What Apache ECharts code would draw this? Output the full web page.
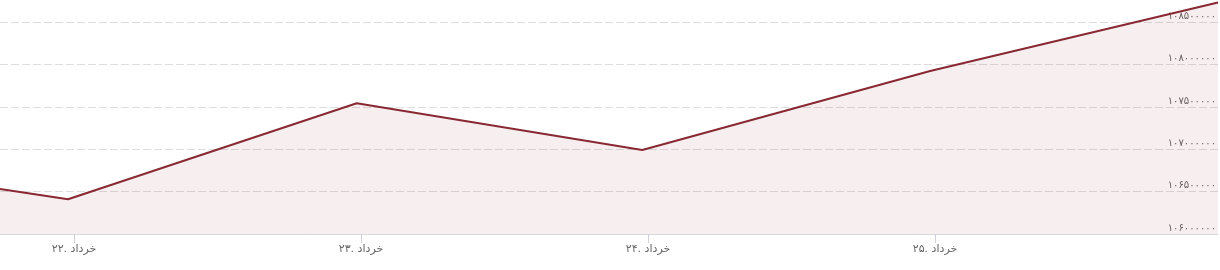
<!DOCTYPE html>
<html>
<head>
<meta charset="utf-8">
<script src="https://cdn.jsdelivr.net/npm/echarts@6/dist/echarts.min.js"></script>
<style>
html,body{margin:0;padding:0;background:#fff;overflow:hidden;width:1220px;height:270px;}
#chart{width:1220px;height:290px;position:absolute;left:0;top:-20px;}
</style>
</head>
<body>
<div id="chart"></div>
<script>
// x: day of month (خرداد), fractional
var xValues = [21.742, 21.979, 22.985, 23.980, 24.983, 25.986];
var yValues = [106531000, 106410000, 107544000, 106992000, 107925000, 108734000];
var xTickDays = [22, 23, 24, 25];
var yTicks = [106000000, 106500000, 107000000, 107500000, 108000000, 108500000];
var monthName = 'خرداد';

function toPersian(s) {
  return String(s).replace(/[0-9]/g, function (d) { return '۰۱۲۳۴۵۶۷۸۹'[+d]; });
}

var data = xValues.map(function (x, i) { return [x, yValues[i]]; });

var chart = echarts.init(document.getElementById('chart'), null, {renderer: 'canvas'});
chart.setOption({
  animation: false,
  backgroundColor: '#ffffff',
  grid: {left: 0, right: 2, top: 0, bottom: 36, containLabel: false},
  xAxis: {
    type: 'value',
    min: 21.742,
    max: 25.986,
    axisLine: {show: true, lineStyle: {color: '#d8d8de', width: 1}},
    axisTick: {show: true, customValues: xTickDays, length: 9, lineStyle: {color: '#d0d0d8'}},
    axisLabel: {
      customValues: xTickDays,
      margin: 10,
      color: '#666666',
      fontSize: 11,
      fontFamily: 'DejaVu Sans',
      formatter: function (v) { return toPersian(Math.round(v)) + '. ' + monthName; }
    },
    splitLine: {show: false}
  },
  yAxis: {
    type: 'value',
    position: 'right',
    min: 106000000,
    max: 109000000,
    interval: 500000,
    axisLine: {show: false},
    axisTick: {show: false},
    axisLabel: {
      inside: true,
      margin: 2,
      color: '#666666',
      fontSize: 10,
      fontFamily: 'DejaVu Sans',
      verticalAlign: 'bottom',
      padding: [0, 0, 1, 0],
      formatter: function (v) { return yTicks.indexOf(v) >= 0 ? toPersian(v) : ''; }
    },
    splitLine: {show: true, lineStyle: {color: '#dedede', type: [8, 3], width: 1}}
  },
  series: [{
    type: 'line',
    data: data,
    showSymbol: false,
    symbol: 'none',
    clip: true,
    lineStyle: {color: '#882832', width: 2},
    areaStyle: {origin: 'start', color: 'rgba(139,38,55,0.11)'}
  }]
});
</script>
</body>
</html>
